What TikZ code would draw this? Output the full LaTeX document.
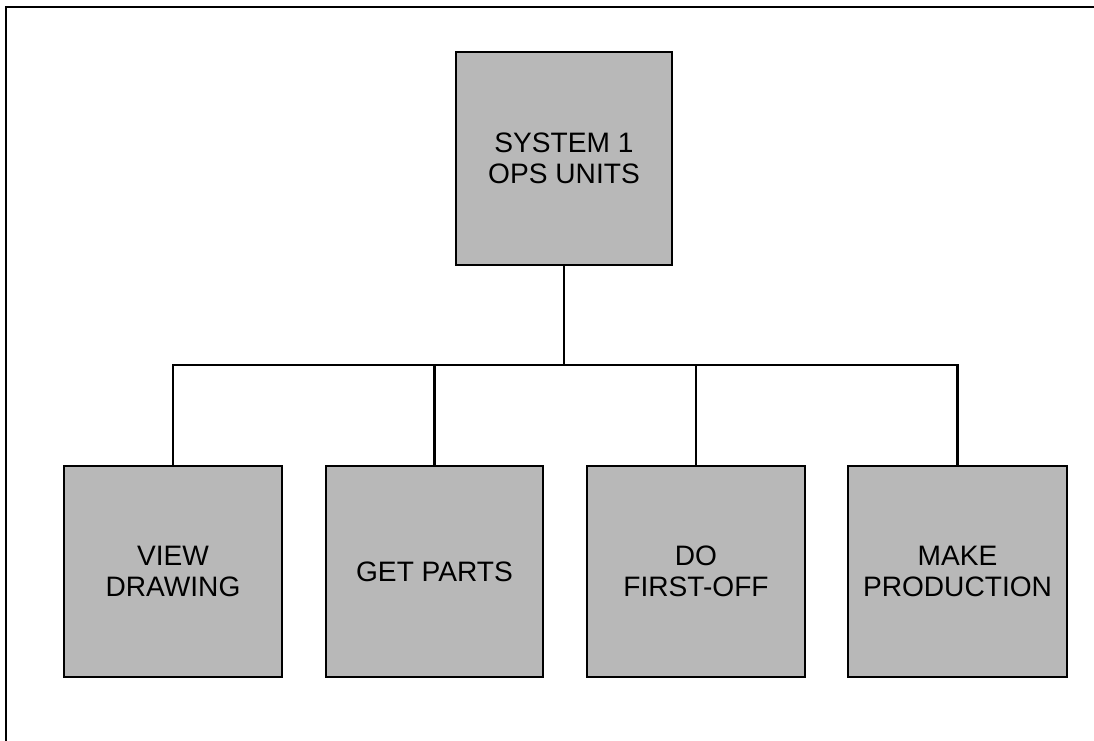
\documentclass[tikz,border=0pt]{standalone}
\usepackage{fontspec}
\setmainfont{Liberation Sans}
\usepackage{xcolor}
\usetikzlibrary{positioning}
\definecolor{dotgray}{HTML}{B8B8B8}

\tikzset{
  unitbox/.style={draw, line width=1.8pt, fill=dotgray, minimum width=5.45cm,
    minimum height=5.275cm, align=center, inner sep=0pt,
    font=\fontsize{20}{22.5}\selectfont},
  link/.style={line width=1.5pt}
}

\begin{document}
\begin{tikzpicture}
    \useasboundingbox (0,0) rectangle (27.35,18.525);
    \draw[line width=1.2pt] (0.15,0) -- (0.15,18.35) -- (27.35,18.35);

    \node[unitbox, minimum width=5.4cm, minimum height=5.325cm] (ops) at (14.1,14.5625) {SYSTEM 1\\OPS UNITS};

    \node[unitbox] (view) at (4.325,4.2375) {VIEW\\DRAWING};
    \node[unitbox, minimum width=5.425cm] (parts) at (10.8625,4.2375) {GET PARTS};
    \node[unitbox] (first) at (17.4,4.2375) {DO\\FIRST-OFF};
    \node[unitbox, minimum width=5.475cm] (prod) at (23.9375,4.2375) {MAKE\\PRODUCTION};

    \coordinate (bar) at (14.1,9.4);
    \draw[link] (ops.south) -- (bar);
    \draw[link] (view.north) |- (prod.north |- bar) -- (prod.north);
    \draw[link] (parts.north) -- (parts.north |- bar);
    \draw[link] (first.north) -- (first.north |- bar);
  \end{tikzpicture}
\end{document}
